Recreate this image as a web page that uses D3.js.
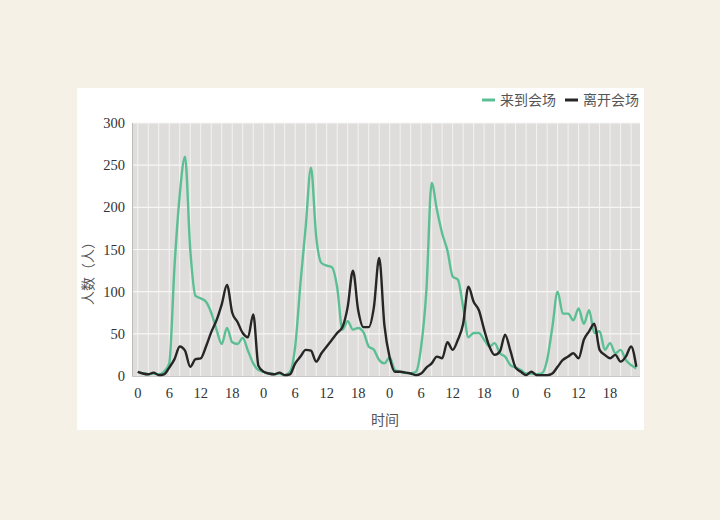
<!DOCTYPE html>
<html><head><meta charset="utf-8">
<script src="https://cdn.jsdelivr.net/npm/d3@7"></script>
<style>
html,body{margin:0;padding:0;background:#f6f1e7;}
svg{display:block;}
</style></head>
<body>
<script>
const hours = d3.range(96);
const arrive = [5,3,2,3,2,5,15,130,215,260,150,95,92,88,75,55,38,57,40,38,45,30,15,7,
  5,3,2,3,1,5,35,110,177,247,165,134,131,129,105,55,65,55,57,52,35,31,19,15,
  22,7,5,4,3,5,35,102,229,197,169,149,118,114,82,46,51,51,43,35,39,27,23,13,
  10,7,3,3,2,3,19,58,100,74,74,66,80,62,78,51,53,31,39,27,31,19,13,9];
const leave = [5,3,2,4,1,2,10,20,35,30,11,20,21,35,52,66,85,108,75,64,51,46,73,12,
  5,3,2,4,1,2,15,23,31,30,17,27,35,43,51,58,82,125,78,58,58,82,140,60,
  22,5,5,4,3,1,3,10,15,23,21,40,31,43,62,106,88,78,55,35,25,29,49,30,
  10,5,1,5,1,1,1,3,11,19,23,27,21,43,53,62,31,25,21,25,17,23,35,11];
const yTicks = [0,50,100,150,200,250,300];
const xTickHours = d3.range(0,96,6);
const seriesNames = ["来到会场","离开会场"];
const colors = ["#5cbf94","#262626"];

const W=720,H=520;
const svg=d3.select("body").append("svg").attr("width",W).attr("height",H);
svg.append("rect").attr("width",W).attr("height",H).attr("fill","#f6f1e7");
svg.append("rect").attr("x",77).attr("y",88).attr("width",567).attr("height",342).attr("fill","#ffffff");

const x=d3.scaleLinear().domain([-1.1,95.7]).range([132,640]);
const y=d3.scaleLinear().domain([0,300]).range([376,123]);

svg.append("rect").attr("x",132).attr("y",123).attr("width",508).attr("height",253).attr("fill","#dfdddb");
const g=svg.append("g");
g.selectAll("line.v").data(d3.range(0,96,2)).join("line")
  .attr("x1",d=>x(d)).attr("x2",d=>x(d)).attr("y1",123).attr("y2",376)
  .attr("stroke","#f4f3f1").attr("stroke-width",1);
g.selectAll("line.h").data(yTicks.slice(1)).join("line")
  .attr("x1",132).attr("x2",640).attr("y1",d=>y(d)).attr("y2",d=>y(d))
  .attr("stroke","#f7f6f4").attr("stroke-width",1.2);
svg.append("line").attr("x1",132.5).attr("x2",132.5).attr("y1",123).attr("y2",376).attr("stroke","#bdbbb8");
svg.append("line").attr("x1",132).attr("x2",640).attr("y1",376.5).attr("y2",376.5).attr("stroke","#c9c7c4");

const font="'Liberation Serif','Noto Sans CJK SC',serif";
svg.append("g").selectAll("text").data(yTicks).join("text")
  .attr("x",125).attr("y",d=>y(d)).attr("dy","0.35em").attr("text-anchor","end")
  .attr("font-family",font).attr("font-size",14.5).attr("fill","#333").text(d=>d);
svg.append("g").selectAll("text").data(xTickHours).join("text")
  .attr("x",d=>x(d)).attr("y",398).attr("text-anchor","middle")
  .attr("font-family",font).attr("font-size",14.5).attr("fill","#333").text(d=>d%24);

svg.append("text").attr("transform","translate(93,270) rotate(-90)").attr("text-anchor","middle")
  .attr("font-family","'Noto Sans CJK SC',sans-serif").attr("font-size",14).attr("fill","#555").text("人数（人）");
svg.append("text").attr("x",385).attr("y",425).attr("text-anchor","middle")
  .attr("font-family","'Noto Sans CJK SC',sans-serif").attr("font-size",14).attr("fill","#555").text("时间");

const line=d3.line().x((d,i)=>x(hours[i])).y(d=>y(d)).curve(d3.curveMonotoneX);
[arrive,leave].forEach((s,k)=>{
  svg.append("path").datum(s).attr("d",line).attr("fill","none")
    .attr("stroke",colors[k]).attr("stroke-width",2.4).attr("stroke-linejoin","round");
});

const lg=svg.append("g");
const lx=[482,565];
seriesNames.forEach((n,k)=>{
  lg.append("line").attr("x1",lx[k]).attr("x2",lx[k]+13).attr("y1",100).attr("y2",100)
    .attr("stroke",colors[k]).attr("stroke-width",3);
  lg.append("text").attr("x",lx[k]+18).attr("y",100).attr("dy","0.35em")
    .attr("font-family","'Noto Sans CJK SC',sans-serif").attr("font-size",14).attr("fill","#555").text(n);
});
</script>
</body></html>
